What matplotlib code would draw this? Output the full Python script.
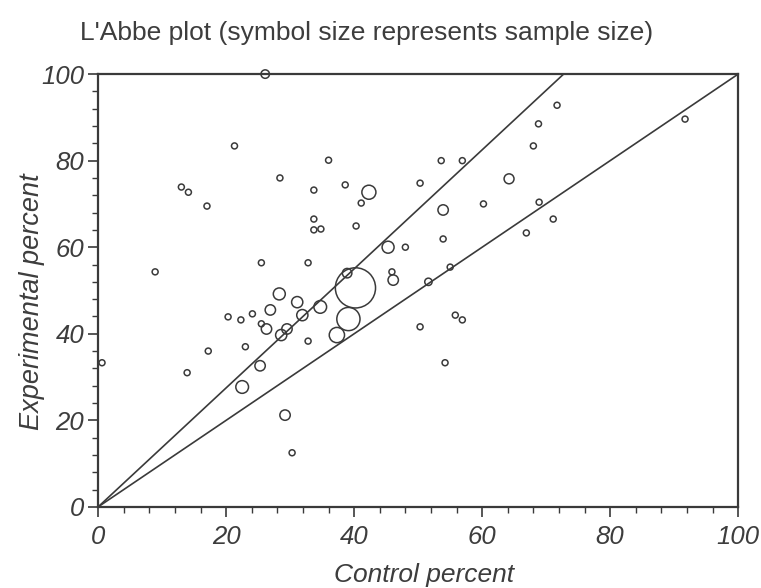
import matplotlib
matplotlib.use("Agg")
import matplotlib.pyplot as plt
import numpy as np

plt.rcParams["font.family"] = ["Liberation Sans", "DejaVu Sans"]

# Trial results: control-group event rate, experimental-group event rate, sample size
control_pct = [26.1, 21.3, 13.0, 14.1, 17.0, 28.4, 36.0, 33.7, 38.6, 42.3,
               41.1, 33.7, 33.7, 34.8, 40.3, 50.3, 53.6, 56.9, 53.9, 60.2,
               64.2, 71.7, 68.8, 68.0, 91.7, 68.9, 71.1, 66.9, 8.9, 25.5,
               32.8, 28.3, 31.1, 26.9, 31.9, 20.3, 22.3, 24.1, 25.5, 26.3,
               28.6, 29.5, 32.8, 17.2, 23.0, 13.9, 25.3, 22.5, 29.2, 0.6,
               45.3, 48.0, 53.9, 40.2, 38.9, 45.9, 46.1, 39.1, 37.3, 34.7,
               51.6, 55.0, 50.3, 55.8, 56.9, 54.2, 30.3]
experimental_pct = [100.0, 83.4, 73.9, 72.7, 69.5, 76.0, 80.1, 73.2, 74.4, 72.7,
                    70.2, 66.5, 64.0, 64.2, 64.9, 74.8, 80.0, 80.0, 68.6, 70.0,
                    75.8, 92.8, 88.5, 83.4, 89.6, 70.4, 66.5, 63.3, 54.3, 56.4,
                    56.4, 49.2, 47.3, 45.5, 44.3, 43.9, 43.2, 44.6, 42.3, 41.1,
                    39.7, 41.1, 38.3, 36.0, 37.0, 31.0, 32.6, 27.7, 21.2, 33.3,
                    60.0, 60.0, 61.9, 50.6, 54.0, 54.3, 52.4, 43.4, 39.7, 46.2,
                    52.0, 55.4, 41.6, 44.3, 43.2, 33.3, 12.5]
sample_size = [40, 20, 20, 20, 20, 20, 20, 20, 20, 110,
               20, 20, 20, 20, 20, 20, 20, 20, 60, 20,
               55, 20, 20, 20, 20, 20, 20, 20, 20, 20,
               20, 80, 70, 60, 70, 20, 20, 20, 20, 60,
               70, 60, 20, 20, 20, 20, 60, 90, 60, 20,
               80, 20, 20, 900, 50, 20, 60, 300, 130, 90,
               30, 20, 20, 20, 20, 20, 20]

pooled_ratio = 1.375  # experimental / control risk ratio line

fig = plt.figure(figsize=(7.61, 5.88), dpi=100)
ax = fig.add_axes([0.129, 0.138, 0.841, 0.736])

ink = "#3a3a3a"
text_col = "#3d3d3d"
line_x = np.array([0.0, 100.0])
ax.plot(line_x, line_x, color=ink, lw=1.2, zorder=2)
ax.plot(line_x, line_x * pooled_ratio, color=ink, lw=1.2, zorder=2)

sizes = np.array(sample_size, dtype=float) * 0.93
ax.scatter(control_pct, experimental_pct, s=sizes, facecolors="none",
           edgecolors=ink, linewidths=1.1, zorder=3, clip_on=False)

ax.set_xlim(0, 100)
ax.set_ylim(0, 100)
ax.set_xticks(np.arange(0, 101, 20))
ax.set_yticks(np.arange(0, 101, 20))
ax.set_xticks(np.arange(0, 101, 4), minor=True)
ax.set_yticks(np.arange(0, 101, 4), minor=True)
ax.tick_params(which="major", direction="out", length=7, width=1.2,
               color=ink, labelsize=18.5, labelcolor=text_col)
ax.tick_params(axis="x", which="major", pad=6)
ax.tick_params(axis="y", which="major", pad=3)
ax.tick_params(which="minor", direction="out", length=4, width=1.0, color=ink)
for lab in ax.get_xticklabels() + ax.get_yticklabels():
    lab.set_fontstyle("italic")
for sp in ax.spines.values():
    sp.set_color(ink)
    sp.set_linewidth(1.6)

ax.set_xlabel("Control percent", fontsize=19, style="italic", color=text_col, va="center")
ax.set_ylabel("Experimental percent", fontsize=19.5, style="italic", color=text_col, va="center")
ax.xaxis.set_label_coords(0.509, -0.158)
ax.yaxis.set_label_coords(-0.104, 0.475)
fig.text(0.105, 0.944, "L'Abbe plot (symbol size represents sample size)",
         fontsize=19, color=text_col, ha="left", va="center")

fig.savefig("out.png", dpi=100, facecolor="white")
